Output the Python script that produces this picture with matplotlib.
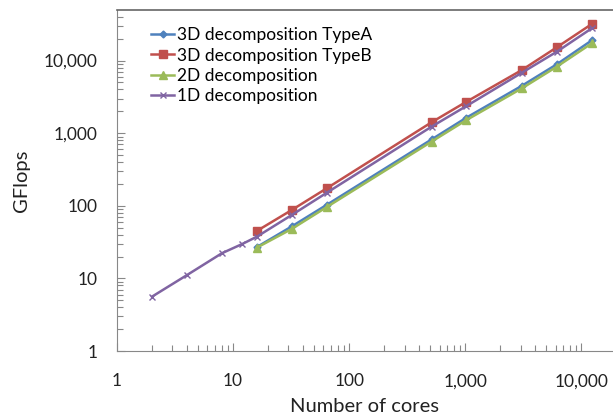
import matplotlib
matplotlib.use("Agg")
import matplotlib.pyplot as plt
from matplotlib.ticker import LogLocator, FuncFormatter, NullFormatter

# data
cores_3d = [16, 32, 64, 512, 1024, 3072, 6144, 12288]
cores_1d = [2, 4, 8, 12, 16, 32, 64, 512, 1024, 3072, 6144, 12288]

gf_3d_a = [27, 52, 103, 820, 1640, 4500, 8900, 19000]
gf_3d_b = [45, 87.5, 174, 1413, 2717, 7420, 15250, 31900]
gf_2d = [26.5, 48, 96, 765, 1520, 4150, 8250, 17300]
gf_1d = [5.6, 11.1, 22.2, 29.8, 37.5, 74.7, 151, 1230, 2370, 6810, 13270, 27860]

labels = ["3D decomposition TypeA", "3D decomposition TypeB",
          "2D decomposition", "1D decomposition"]

plt.rcParams['font.family'] = ['Lato', 'DejaVu Sans']

fig = plt.figure(figsize=(6.13, 4.17), dpi=100)
ax = fig.add_axes([117/613, 66/417, 1 - 117/613, 341/417])

ax.plot(cores_3d, gf_3d_a, color='#4F81BD', marker='D', markersize=3.5, lw=1.8, label=labels[0])
ax.plot(cores_3d, gf_3d_b, color='#C0504D', marker='s', markersize=6, lw=1.8, label=labels[1])
ax.plot(cores_3d, gf_2d, color='#9BBB59', marker='^', markersize=5.5, lw=1.8, label=labels[2])
ax.plot(cores_1d, gf_1d, color='#8064A2', marker='x', markersize=5, mew=1, lw=1.8, label=labels[3])

ax.set_xscale('log')
ax.set_yscale('log')
ax.set_xlim(1, 10**((613 - 117) / 116.1))
ax.set_ylim(1, 10**(341 / 72.6))

fmt = FuncFormatter(lambda v, p: f"{v:,.0f}")
ax.xaxis.set_major_locator(LogLocator(base=10, numticks=10))
ax.yaxis.set_major_locator(LogLocator(base=10, numticks=10))
ax.xaxis.set_major_formatter(fmt)
ax.yaxis.set_major_formatter(fmt)
ax.xaxis.set_minor_locator(LogLocator(base=10, subs=range(2, 10), numticks=20))
ax.yaxis.set_minor_locator(LogLocator(base=10, subs=range(2, 10), numticks=20))
ax.xaxis.set_minor_formatter(NullFormatter())
ax.yaxis.set_minor_formatter(NullFormatter())

ax.tick_params(which='both', direction='in', color='#888888', labelsize=12.5, labelcolor='#222222')
ax.tick_params(which='major', length=6, width=0.8)
ax.tick_params(which='minor', length=4, width=0.8)
ax.tick_params(axis='x', pad=16)
ax.tick_params(axis='y', pad=14)

for s in ['left', 'bottom']:
    ax.spines[s].set_color('#888888')
ax.spines['top'].set_color('#666666')
ax.spines['top'].set_linewidth(1.2)
ax.spines['right'].set_visible(False)

ax.set_xlabel("Number of cores", fontsize=14.5, color='#222222', labelpad=6)
ax.set_ylabel("GFlops", fontsize=14.5, color='#222222', labelpad=10)

ax.legend(loc='upper left', bbox_to_anchor=(0.055, 0.97), frameon=False,
          fontsize=12.5, handlelength=1.3, handletextpad=0.2, labelspacing=0.25,
          borderaxespad=0)

fig.savefig("out.png", dpi=100)
